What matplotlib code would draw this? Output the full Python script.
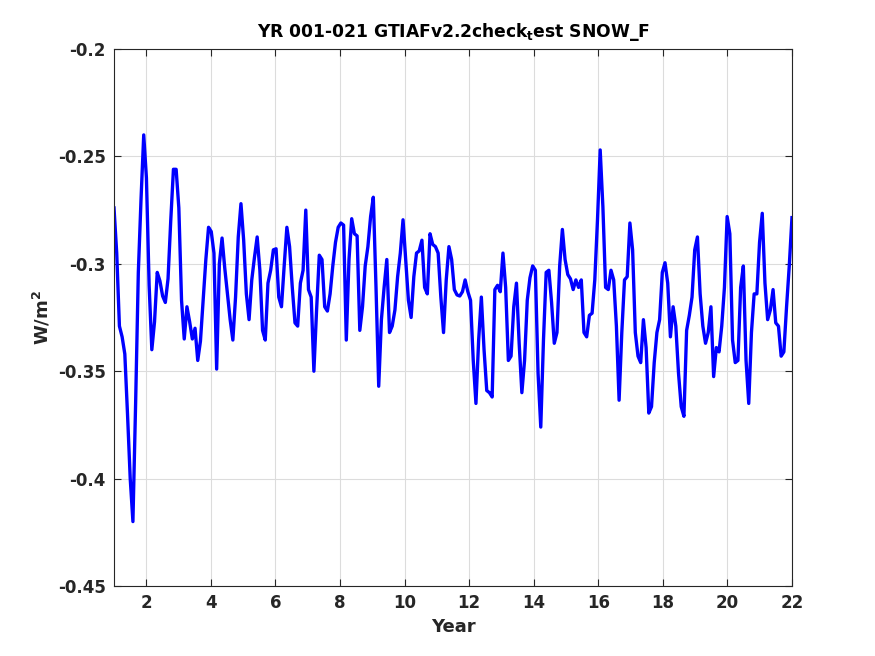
import numpy as np
import matplotlib
matplotlib.use("Agg")
import matplotlib.pyplot as plt

# Monthly SNOW_F values (W/m^2), years 1-21
yr01 = [-0.274, -0.295, -0.329, -0.334, -0.342, -0.370, -0.400, -0.420, -0.365, -0.304, -0.270, -0.240]
yr02 = [-0.260, -0.310, -0.340, -0.327, -0.304, -0.308, -0.315, -0.318, -0.307, -0.280, -0.256, -0.256]
yr03 = [-0.274, -0.317, -0.335, -0.320, -0.327, -0.335, -0.330, -0.345, -0.336, -0.317, -0.298, -0.283]
yr04 = [-0.285, -0.295, -0.349, -0.300, -0.288, -0.302, -0.314, -0.326, -0.3355, -0.3155, -0.2875, -0.272]
yr05 = [-0.289, -0.314, -0.326, -0.3075, -0.297, -0.2875, -0.303, -0.331, -0.3355, -0.309, -0.303, -0.2935]
yr06 = [-0.293, -0.3155, -0.320, -0.301, -0.283, -0.292, -0.311, -0.3275, -0.329, -0.309, -0.303, -0.275]
yr07 = [-0.312, -0.3155, -0.350, -0.3215, -0.296, -0.298, -0.320, -0.322, -0.314, -0.301, -0.290, -0.283]
yr08 = [-0.281, -0.282, -0.3355, -0.298, -0.279, -0.286, -0.287, -0.331, -0.320, -0.301, -0.292, -0.278]
yr09 = [-0.269, -0.311, -0.357, -0.326, -0.311, -0.298, -0.332, -0.329, -0.3215, -0.306, -0.295, -0.2795]
yr10 = [-0.298, -0.317, -0.325, -0.306, -0.295, -0.294, -0.289, -0.311, -0.314, -0.286, -0.291, -0.292]
yr11 = [-0.295, -0.3155, -0.332, -0.3075, -0.292, -0.298, -0.312, -0.3145, -0.315, -0.313, -0.3075, -0.313]
yr12 = [-0.317, -0.345, -0.365, -0.3355, -0.3155, -0.340, -0.359, -0.360, -0.362, -0.312, -0.310, -0.313]
yr13 = [-0.295, -0.311, -0.345, -0.343, -0.320, -0.309, -0.337, -0.360, -0.345, -0.317, -0.3065, -0.301]
yr14 = [-0.303, -0.351, -0.376, -0.3355, -0.304, -0.303, -0.318, -0.337, -0.332, -0.301, -0.284, -0.298]
yr15 = [-0.305, -0.307, -0.312, -0.3075, -0.311, -0.3075, -0.332, -0.334, -0.324, -0.323, -0.3075, -0.2795]
yr16 = [-0.247, -0.2735, -0.311, -0.312, -0.303, -0.3075, -0.329, -0.3635, -0.332, -0.3075, -0.306, -0.281]
yr17 = [-0.2935, -0.332, -0.343, -0.346, -0.326, -0.339, -0.3695, -0.3665, -0.346, -0.332, -0.326, -0.304]
yr18 = [-0.2995, -0.309, -0.334, -0.320, -0.329, -0.351, -0.3665, -0.371, -0.331, -0.324, -0.3155, -0.2935]
yr19 = [-0.2875, -0.314, -0.329, -0.337, -0.332, -0.320, -0.3525, -0.339, -0.341, -0.329, -0.311, -0.278]
yr20 = [-0.286, -0.3355, -0.346, -0.345, -0.311, -0.301, -0.345, -0.365, -0.332, -0.314, -0.314, -0.290]
yr21 = [-0.2765, -0.309, -0.326, -0.3215, -0.312, -0.3275, -0.329, -0.343, -0.341, -0.320, -0.301, -0.2785]

values = np.concatenate([yr01, yr02, yr03, yr04, yr05, yr06, yr07, yr08, yr09, yr10,
                         yr11, yr12, yr13, yr14, yr15, yr16, yr17, yr18, yr19, yr20, yr21])
year_start, year_end = 1, 22
years = np.linspace(year_start, year_end, len(values))

xticks = [2, 4, 6, 8, 10, 12, 14, 16, 18, 20, 22]
yticks = [-0.45, -0.4, -0.35, -0.3, -0.25, -0.2]
ytick_labels = ["-0.45", "-0.4", "-0.35", "-0.3", "-0.25", "-0.2"]

plt.rcParams['font.family'] = ['DejaVu Sans']
plt.rcParams['font.weight'] = 'bold'

fig = plt.figure(figsize=(8.75, 6.56), dpi=100)
ax = fig.add_axes([0.1303, 0.1067, 0.7748, 0.8186])
ax.plot(years, values, color=(0, 0, 1), linewidth=2.4)

ax.set_xlim(1, 22)
ax.set_ylim(-0.45, -0.2)
ax.set_xticks(xticks)
ax.set_xticklabels([str(t) for t in xticks], fontsize=12, fontweight='bold', color='#262626')
ax.set_yticks(yticks)
ax.set_yticklabels(ytick_labels, fontsize=12, fontweight='bold', color='#262626')
ax.grid(True, color='#dcdcdc', linewidth=0.8)
ax.set_axisbelow(True)
ax.tick_params(direction='in', top=True, right=True, length=5, width=0.8, colors='#262626', pad=6)
for s in ax.spines.values():
    s.set_color('#262626')
    s.set_linewidth(0.8)

ax.set_xlabel("Year", fontsize=13, fontweight='bold', color='#262626')
ax.set_ylabel("W/m$^\\mathbf{2}$", fontsize=13, fontweight='bold', color='#262626')
ax.set_title("YR 001-021 GTIAFv2.2check$_\\mathbf{t}$est SNOW_F", fontsize=12.3, fontweight='bold', pad=9)

fig.savefig("out.png", dpi=100, facecolor='white')
